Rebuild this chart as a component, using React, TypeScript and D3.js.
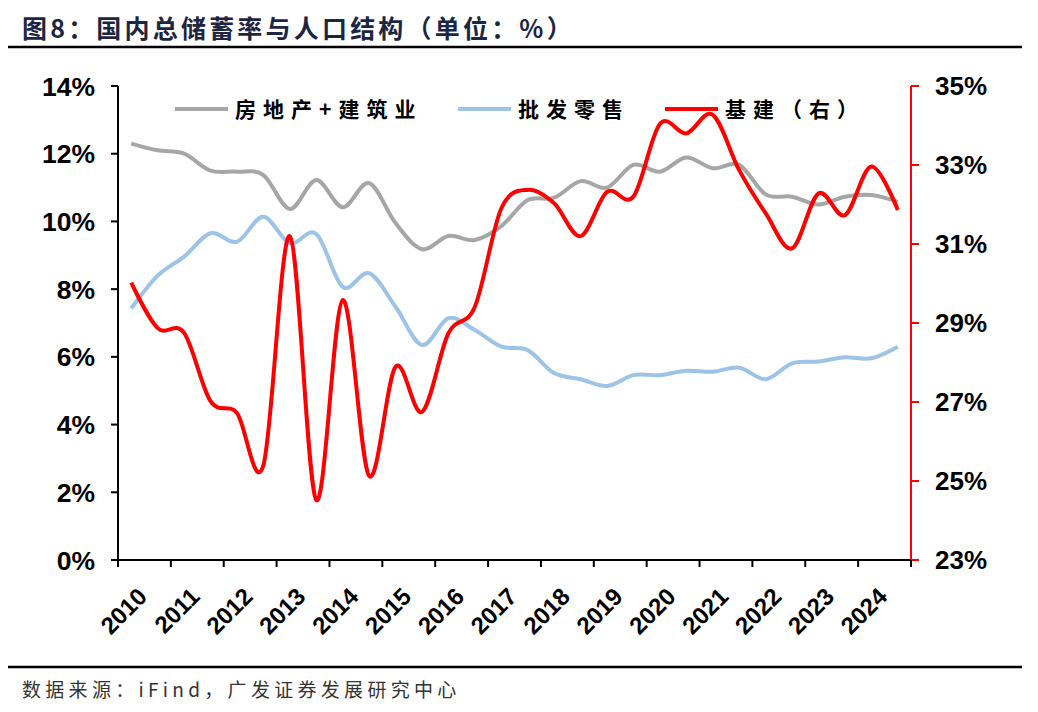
import * as d3 from "d3";

// Half-year observations, 2010H1 .. 2024H2
const years = ["2010", "2011", "2012", "2013", "2014", "2015", "2016", "2017", "2018", "2019", "2020", "2021", "2022", "2023", "2024"];
const periods = years.flatMap((y) => [`${y}H1`, `${y}H2`]);

// 房地产+建筑业 (left axis, %)
const realEstate = [12.3, 12.1, 12.0, 11.5, 11.47, 11.37, 10.37, 11.22, 10.42, 11.13, 9.95, 9.18, 9.57, 9.45, 9.86, 10.63, 10.7, 11.19, 11.0, 11.67, 11.47, 11.89, 11.57, 11.67, 10.8, 10.73, 10.5, 10.73, 10.78, 10.58];
// 批发零售 (left axis, %)
const wholesale = [7.43, 8.4, 8.96, 9.65, 9.4, 10.14, 9.35, 9.63, 8.07, 8.47, 7.48, 6.35, 7.14, 6.79, 6.3, 6.2, 5.52, 5.34, 5.14, 5.46, 5.46, 5.59, 5.56, 5.68, 5.34, 5.81, 5.86, 5.99, 5.96, 6.3];
// 基建 (right axis, %)
const infra = [30.02, 28.87, 28.75, 27.02, 26.72, 25.4, 31.2, 24.52, 29.58, 25.13, 27.89, 26.75, 28.74, 29.41, 31.9, 32.37, 32.03, 31.2, 32.32, 32.2, 34.04, 33.8, 34.27, 32.87, 31.78, 30.89, 32.28, 31.73, 32.96, 31.86];

const leftTicks = [0, 2, 4, 6, 8, 10, 12, 14];
const rightTicks = [23, 25, 27, 29, 31, 33, 35];

const legendItems = [
  { label: "房地产+建筑业", color: "#a6a6a6", x: 175 },
  { label: "批发零售", color: "#9dc3e6", x: 458 },
  { label: "基建（右）", color: "#ff0000", x: 665 },
];

const W = 1038;
const H = 712;
const plot = { left: 118, right: 911, top: 86, bottom: 560 };
const NUM = "Arial, 'Liberation Sans', sans-serif";
const CJK = "'Noto Sans CJK SC', sans-serif";

export default function App() {
  const x = d3.scaleBand().domain(periods).range([plot.left, plot.right]);
  const cx = (i: number) => (x(periods[i]) ?? 0) + x.bandwidth() / 2;
  const yL = d3.scaleLinear().domain([0, 14]).range([plot.bottom, plot.top]);
  const yR = d3.scaleLinear().domain([23, 35]).range([plot.bottom, plot.top]);

  const curve = d3.curveCardinal.tension(0);
  const lineL = d3.line<number>().x((_, i) => cx(i)).y((d) => yL(d)).curve(curve);
  const lineR = d3.line<number>().x((_, i) => cx(i)).y((d) => yR(d)).curve(curve);

  const yearStarts = years.map((y) => x(`${y}H1`) ?? 0);
  const tickXs = [...yearStarts, plot.right];

  return (
    <svg width={W} height={H} style={{ position: "absolute", left: 0, top: 0, background: "#fff" }}>
      {/* title */}
      <text x={22} y={38} fontFamily={CJK} fontWeight={700} fontSize={25} letterSpacing={3.2} fill="#1c2541">
        图8：国内总储蓄率与人口结构（单位：%）
      </text>
      <line x1={8} x2={1022} y1={47} y2={47} stroke="#000" strokeWidth={2.5} />

      {/* series */}
      <path d={lineL(realEstate) ?? ""} fill="none" stroke="#a6a6a6" strokeWidth={4} />
      <path d={lineL(wholesale) ?? ""} fill="none" stroke="#9dc3e6" strokeWidth={4} />
      <path d={lineR(infra) ?? ""} fill="none" stroke="#ff0000" strokeWidth={4} />

      {/* left axis */}
      <line x1={plot.left} x2={plot.left} y1={plot.top} y2={plot.bottom} stroke="#000" strokeWidth={2} />
      {leftTicks.map((t) => (
        <g key={t}>
          <line x1={plot.left - 7} x2={plot.left} y1={yL(t)} y2={yL(t)} stroke="#000" strokeWidth={2} />
          <text x={95} y={yL(t)} dy="0.36em" textAnchor="end" fontFamily={NUM} fontWeight={700} fontSize={26.5} fill="#000">
            {t}%
          </text>
        </g>
      ))}

      {/* right axis */}
      <line x1={plot.right} x2={plot.right} y1={plot.top} y2={plot.bottom} stroke="#ff0000" strokeWidth={2} />
      {rightTicks.map((t) => (
        <g key={t}>
          <line x1={plot.right} x2={plot.right + 8} y1={yR(t)} y2={yR(t)} stroke="#ff0000" strokeWidth={2} />
          <text x={935} y={yR(t)} dy="0.36em" textAnchor="start" fontFamily={NUM} fontWeight={700} fontSize={26} fill="#000">
            {t}%
          </text>
        </g>
      ))}

      {/* bottom axis */}
      <line x1={plot.left - 1} x2={plot.right} y1={plot.bottom} y2={plot.bottom} stroke="#000" strokeWidth={2} />
      {tickXs.map((tx, i) => (
        <line key={i} x1={tx} x2={tx} y1={plot.bottom} y2={plot.bottom + 7} stroke="#000" strokeWidth={2} />
      ))}
      {years.map((y, i) => {
        const lx = yearStarts[i] + x.bandwidth();
        return (
          <text
            key={y}
            transform={`translate(${lx + 4},${598}) rotate(-45)`}
            textAnchor="end"
            fontFamily={NUM}
            fontWeight={700}
            fontSize={24}
            fill="#000"
          >
            {y}
          </text>
        );
      })}

      {/* legend */}
      {legendItems.map((d) => (
        <g key={d.label}>
          <line x1={d.x} x2={d.x + 53} y1={109} y2={109} stroke={d.color} strokeWidth={4} />
          <text x={d.x + 60} y={109} dy="0.36em" fontFamily={CJK} fontWeight={700} fontSize={21} letterSpacing={7} fill="#000">
            {d.label}
          </text>
        </g>
      ))}

      {/* source */}
      <line x1={8} x2={1022} y1={667} y2={667} stroke="#000" strokeWidth={2.5} />
      <text x={22} y={697} fontFamily={CJK} fontSize={19} letterSpacing={4.3} fill="#333">
        数据来源：iFind，广发证券发展研究中心
      </text>
    </svg>
  );
}
